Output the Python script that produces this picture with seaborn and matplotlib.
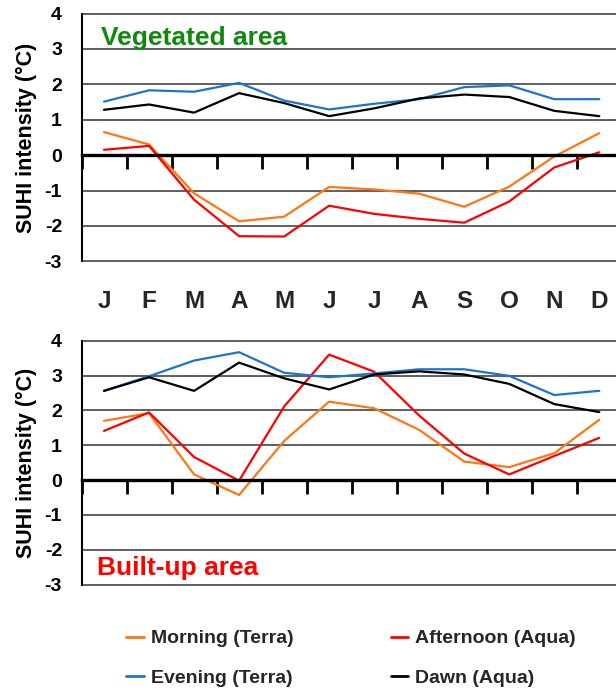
import matplotlib
matplotlib.use("Agg")
import matplotlib.pyplot as plt
from matplotlib.lines import Line2D
import seaborn as sns
import pandas as pd

# Monthly SUHI intensity (°C) by overpass time
months = ["J", "F", "M", "A", "M", "J", "J", "A", "S", "O", "N", "D"]
series_names = ["Morning (Terra)", "Afternoon (Aqua)", "Evening (Terra)", "Dawn (Aqua)"]

veg_morning = [0.65, 0.30, -1.08, -1.87, -1.74, -0.90, -0.97, -1.09, -1.46, -0.89, -0.04, 0.62]
veg_afternoon = [0.15, 0.26, -1.26, -2.29, -2.30, -1.43, -1.66, -1.80, -1.91, -1.31, -0.35, 0.08]
veg_evening = [1.51, 1.83, 1.79, 2.04, 1.54, 1.29, 1.45, 1.58, 1.92, 1.97, 1.58, 1.58]
veg_dawn = [1.28, 1.43, 1.20, 1.75, 1.47, 1.10, 1.32, 1.60, 1.71, 1.64, 1.25, 1.10]

urb_morning = [1.70, 1.92, 0.16, -0.43, 1.12, 2.25, 2.06, 1.44, 0.53, 0.37, 0.77, 1.73]
urb_afternoon = [1.41, 1.94, 0.66, -0.02, 2.11, 3.60, 3.11, 1.85, 0.76, 0.16, 0.69, 1.21]
urb_evening = [2.56, 2.98, 3.43, 3.67, 3.08, 2.95, 3.06, 3.18, 3.18, 2.99, 2.44, 2.56]
urb_dawn = [2.56, 2.95, 2.56, 3.37, 2.92, 2.60, 3.03, 3.12, 3.03, 2.76, 2.18, 1.95]

y_ticks = [-3, -2, -1, 0, 1, 2, 3, 4]

palette = {
    "Morning (Terra)": "#ff7612",
    "Afternoon (Aqua)": "#ff0000",
    "Evening (Terra)": "#1a74d0",
    "Dawn (Aqua)": "#000000",
}

sns.set_theme(style="white")
plt.rcParams["font.family"] = ["Liberation Sans", "DejaVu Sans"]
plt.rcParams["font.weight"] = "bold"


def long_table(values):
    rows = []
    for name, vals in zip(series_names, values):
        for i, v in enumerate(vals):
            rows.append({"month": i, "series": name, "suhi": v})
    return pd.DataFrame(rows)


veg_df = long_table([veg_morning, veg_afternoon, veg_evening, veg_dawn])
urb_df = long_table([urb_morning, urb_afternoon, urb_evening, urb_dawn])

W, H = 616, 695
fig = plt.figure(figsize=(W / 100, H / 100), dpi=100)

# panel rectangles in pixels: left, top, right, bottom
panels = [(81.5, 13.5, 621.8, 261.3), (81.5, 340.7, 621.8, 584.5)]
axes = []
for (l, t, r, b) in panels:
    axes.append(fig.add_axes([l / W, 1 - b / H, (r - l) / W, (b - t) / H]))


def style_axis(ax):
    ax.set_xlim(-0.5, 11.5)
    ax.set_ylim(-3, 4)
    ax.set_yticks(y_ticks)
    ax.set_yticklabels([str(v) for v in y_ticks], fontsize=14, fontweight="bold")
    ax.tick_params(axis="y", length=0, pad=14, colors="black")
    ax.yaxis.grid(True, color="#444444", linewidth=1.2)
    for gl in ax.yaxis.get_gridlines():
        gl.set_clip_on(False)
    ax.xaxis.grid(False)
    ax.spines["top"].set_visible(False)
    ax.spines["right"].set_visible(False)
    ax.spines["left"].set_color("black")
    ax.spines["left"].set_linewidth(1.5)
    ax.spines["bottom"].set_position(("data", 0))
    ax.spines["bottom"].set_color("black")
    ax.spines["bottom"].set_linewidth(2.4)
    ax.set_xticks([i - 0.5 for i in range(13)])
    ax.set_xticklabels([])
    ax.tick_params(axis="x", direction="out", length=10, width=2, colors="black",
                   bottom=True)
    ax.set_xlabel("")
    ax.set_ylabel("SUHI intensity (°C)", fontsize=15.5, fontweight="bold", color="black")
    ax.yaxis.set_label_coords(-0.083, 0.5)
    ax.set_facecolor("white")


for ax, df in zip(axes, [veg_df, urb_df]):
    sns.lineplot(data=df, x="month", y="suhi", hue="series", palette=palette,
                 hue_order=series_names, linewidth=1.6, sort=False, legend=False,
                 ax=ax)
    style_axis(ax)

# month labels under the upper panel
sec = axes[0].secondary_xaxis("bottom")
sec.set_xticks(range(12))
sec.set_xticklabels(months, fontsize=17.5, fontweight="bold")
sec.tick_params(length=0, pad=21)
sec.spines["bottom"].set_visible(False)

axes[0].text(0.036, 0.873, "Vegetated area", transform=axes[0].transAxes,
             fontsize=19, fontweight="bold", color="#0f8a0f", va="baseline", ha="left")
axes[1].text(0.029, 0.04, "Built-up area", transform=axes[1].transAxes,
             fontsize=19, fontweight="bold", color="#ff0000", va="baseline", ha="left")

legend_order = ["Morning (Terra)", "Evening (Terra)", "Afternoon (Aqua)", "Dawn (Aqua)"]
handles = [Line2D([0], [0], color=palette[n], linewidth=2) for n in legend_order]
fig.legend(handles, legend_order, ncol=2, loc="center", bbox_to_anchor=(351 / W, 1 - 658.5 / H),
           frameon=False, handlelength=0.9, handletextpad=0.35,
           columnspacing=5.0, labelspacing=1.15, prop={"weight": "bold", "size": 14})

fig.savefig("out.png", dpi=100, facecolor="white")
